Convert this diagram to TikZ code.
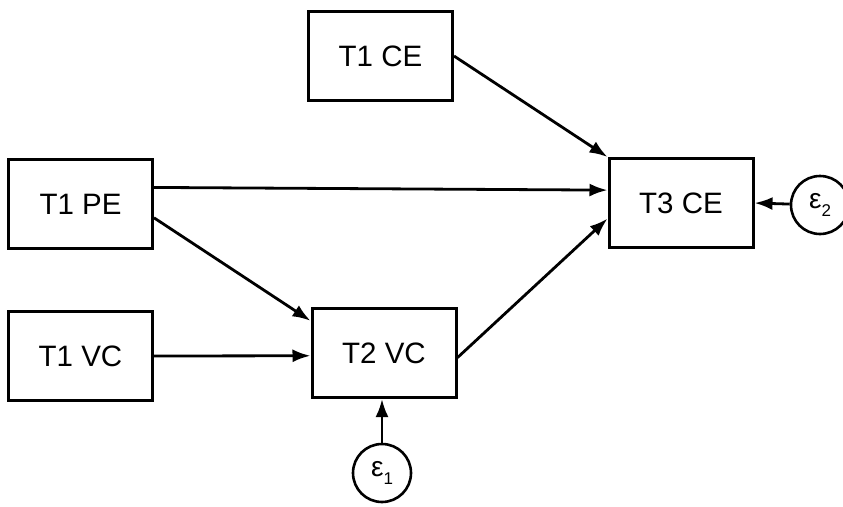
\documentclass[tikz,border=0pt]{standalone}
\usepackage{fontspec}
\setmainfont{Liberation Sans}
\usetikzlibrary{arrows.meta,calc}
\begin{document}
\begin{tikzpicture}[x=1pt,y=-1pt,
  varbox/.style={draw,line width=3pt,rectangle,minimum width=144pt,minimum height=89pt,inner sep=0pt,font=\fontsize{29.5}{34}\selectfont},
  errc/.style={draw,line width=2.6pt,circle,minimum size=58pt,inner sep=0pt},
  conn/.style={line width=2.8pt,-{Latex[length=18pt,width=13pt]}}]
\useasboundingbox (0,0) rectangle (843,506);
\newcommand{\errlab}[1]{{\fontsize{28}{30}\selectfont ε\raisebox{-0.3em}{\fontsize{17}{18}\selectfont #1}}}
\node[varbox] (t1ce) at (380.5,56) {T1 CE};
\node[varbox] (t1pe) at (80.5,204) {T1 PE};
\node[varbox] (t1vc) at (80.5,356) {T1 VC};
\node[varbox] (t2vc) at (384,353) {T2 VC};
\node[varbox] (t3ce) at (681,203) {T3 CE};
\node[errc] (e2) at (820,205) {\errlab{2}};
\node[errc] (e1) at (382,473) {\errlab{1}};
\draw[conn] (t1ce.east) -- (t3ce.north west);
\draw[conn] ($(t1pe.north east)!0.32!(t1pe.south east)$) -- ($(t3ce.north west)!0.36!(t3ce.south west)$);
\draw[conn] ($(t1pe.north east)!0.65!(t1pe.south east)$) -- ($(t2vc.north west)!0.15!(t2vc.south west)$);
\draw[conn] (t1vc.east) -- ($(t2vc.north west)!0.53!(t2vc.south west)$);
\draw[conn] ($(t2vc.north east)!0.55!(t2vc.south east)$) -- ($(t3ce.north west)!0.67!(t3ce.south west)$);
\draw[conn] (e2) -- (t3ce.east);
\draw[conn] (e1) -- (e1 |- t2vc.south);
\end{tikzpicture}
\end{document}
